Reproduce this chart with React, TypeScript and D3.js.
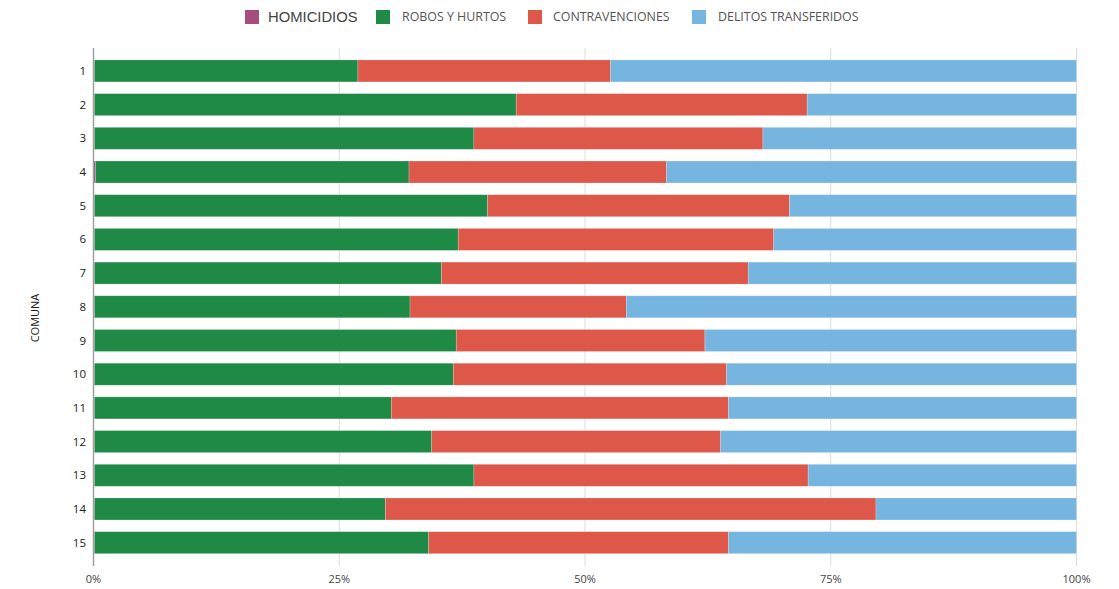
import React, { useEffect, useRef } from "react";
import * as d3 from "d3";

// percentages per comuna
const comunas = ["1", "2", "3", "4", "5", "6", "7", "8", "9", "10", "11", "12", "13", "14", "15"];
const homicidios = [0.1, 0.1, 0.1, 0.2, 0.1, 0.1, 0.1, 0.1, 0.1, 0.1, 0.1, 0.1, 0.1, 0.1, 0.1];
const robos = [26.8, 42.9, 38.6, 31.9, 40.0, 37.0, 35.3, 32.1, 36.8, 36.5, 30.2, 34.3, 38.6, 29.6, 34.0];
const contravenciones = [25.7, 29.6, 29.4, 26.2, 30.7, 32.1, 31.2, 22.0, 25.3, 27.8, 34.3, 29.4, 34.0, 49.9, 30.5];
const xTicks = [0, 25, 50, 75, 100];

const seriesNames = ["HOMICIDIOS", "ROBOS Y HURTOS", "CONTRAVENCIONES", "DELITOS TRANSFERIDOS"];
const colors = ["#a64d7d", "#1f8a45", "#de5849", "#77b5e1"];

const App = () => {
  const ref = useRef<SVGSVGElement>(null);

  useEffect(() => {
    const svg = d3.select(ref.current);
    svg.selectAll("*").remove();

    const rows = comunas.map((c, i) => ({
      comuna: c,
      h: homicidios[i],
      r: robos[i],
      c: contravenciones[i],
      d: 100 - homicidios[i] - robos[i] - contravenciones[i],
    }));
    const keys = ["h", "r", "c", "d"];
    const stacked = d3.stack<any>().keys(keys)(rows);

    const x = d3.scaleLinear().domain([0, 100]).range([93.5, 1076.5]);
    const y = d3.scaleBand().domain(comunas).range([54.2, 559.4]).paddingInner(0.347).paddingOuter(0.17);

    // gridlines
    svg
      .append("g")
      .selectAll("line")
      .data(xTicks.slice(1))
      .enter()
      .append("line")
      .attr("x1", (d) => x(d))
      .attr("x2", (d) => x(d))
      .attr("y1", 48)
      .attr("y2", 566)
      .attr("stroke", "#dcdcdc")
      .attr("stroke-width", 1);

    // bars
    svg
      .append("g")
      .selectAll("g")
      .data(stacked)
      .enter()
      .append("g")
      .attr("fill", (_, i) => colors[i])
      .selectAll("rect")
      .data((s) => s)
      .enter()
      .append("rect")
      .attr("x", (d) => x(d[0]))
      .attr("width", (d) => x(d[1]) - x(d[0]))
      .attr("y", (d: any) => y(d.data.comuna)!)
      .attr("height", y.bandwidth())
      .attr("stroke", "#ffffff")
      .attr("stroke-opacity", 0.35)
      .attr("stroke-width", 0.6);

    // y axis line
    svg
      .append("line")
      .attr("x1", 93.5)
      .attr("x2", 93.5)
      .attr("y1", 48)
      .attr("y2", 566)
      .attr("stroke", "#a0a0a0")
      .attr("stroke-width", 1.5);

    // y labels
    svg
      .append("g")
      .selectAll("text")
      .data(comunas)
      .enter()
      .append("text")
      .attr("x", 86)
      .attr("y", (d) => y(d)! + y.bandwidth() / 2)
      .attr("dy", "0.35em")
      .attr("text-anchor", "end")
      .attr("font-size", 11.5)
      .attr("fill", "#222")
      .text((d) => d);

    // x labels
    svg
      .append("g")
      .selectAll("text")
      .data(xTicks)
      .enter()
      .append("text")
      .attr("x", (d) => x(d))
      .attr("y", 583)
      .attr("text-anchor", "middle")
      .attr("font-size", 11)
      .attr("fill", "#444")
      .text((d) => d + "%");

    // axis title
    svg
      .append("text")
      .attr("transform", "translate(39,318) rotate(-90)")
      .attr("text-anchor", "middle")
      .attr("font-size", 11)
      .attr("fill", "#222")
      .text("COMUNA");

    // legend
    const legendX = [245, 376, 528, 692];
    const legend = svg
      .append("g")
      .selectAll("g")
      .data(seriesNames)
      .enter()
      .append("g")
      .attr("transform", (_, i) => `translate(${legendX[i]},10)`);
    legend
      .append("rect")
      .attr("width", 14)
      .attr("height", 14)
      .attr("fill", (_, i) => colors[i]);
    legend
      .append("text")
      .attr("x", (_, i) => (i === 0 ? 23 : i === 2 ? 25 : 26))
      .attr("y", 7)
      .attr("dy", "0.35em")
      .attr("font-size", (_, i) => (i === 0 ? 14.8 : 12.4))
      .attr("font-family", (_, i) => (i === 0 ? "Liberation Sans, Arial, sans-serif" : "Open Sans, sans-serif"))
      .attr("fill", (_, i) => (i === 0 ? "#444" : "#555"))
      .text((d) => d);
  }, []);

  return (
    <svg
      ref={ref}
      width={1119}
      height={589}
      style={{ position: "absolute", left: 0, top: 0, fontFamily: "Open Sans, sans-serif", background: "#fff" }}
    />
  );
};

export default App;
